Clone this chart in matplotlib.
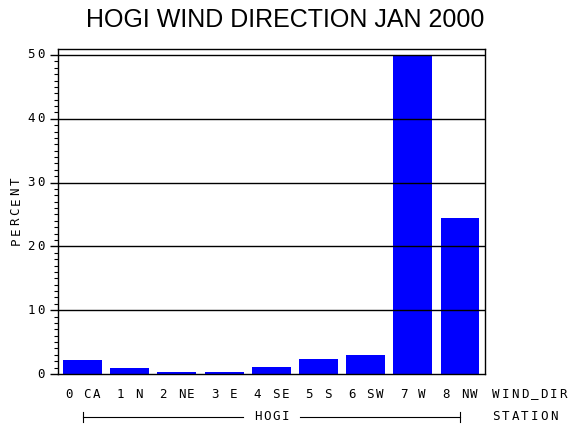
import matplotlib
matplotlib.use("Agg")
import matplotlib.pyplot as plt
import matplotlib.transforms as mtransforms
from matplotlib.ticker import MultipleLocator

# valeurs
directions = ["0 CA", "1 N", "2 NE", "3 E", "4 SE", "5 S", "6 SW", "7 W", "8 NW"]
percent = [2.2, 0.95, 0.33, 0.33, 1.1, 2.37, 3.0, 49.9, 24.45]
y_ticks = [0, 10, 20, 30, 40, 50]
station = "HOGI"

W, H = 570, 430
mono = "DejaVu Sans Mono"
fsize = 9
pitch = 9.2  # px entre caracteres (police SAS espacee)

fig = plt.figure(figsize=(W / 100, H / 100), dpi=100)
ax = fig.add_axes([58 / W, 1 - 374 / H, 427 / W, 325 / H])


def spaced(x, y, s, transform, ha="center", vertical=False, p=pitch):
    # place chaque caractere avec un pas fixe
    n = len(s)
    total = (n - 1) * p
    if ha == "center":
        start = -total / 2
    elif ha == "left":
        start = 3
    else:
        start = -total - 3
    for i, c in enumerate(s):
        if c == " ":
            continue
        off = (start + i * p) / 100
        if vertical:
            tr = mtransforms.offset_copy(transform, fig=fig, x=0, y=off, units="inches")
            rot = 90
        else:
            tr = mtransforms.offset_copy(transform, fig=fig, x=off, y=0, units="inches")
            rot = 0
        fig.text(x, y, c, transform=tr, ha="center", va="center", rotation=rot,
                 fontfamily=mono, fontsize=fsize)


x = list(range(len(directions)))
ax.bar(x, percent, width=0.825, color="#0000ff", zorder=1)

ax.set_xlim(-0.52, len(directions) - 0.47)
ax.set_ylim(0, 50.94)

# lignes de reference par-dessus les barres
for t in y_ticks[1:]:
    ax.axhline(t, color="black", linewidth=1.0, zorder=3)

ax.yaxis.set_major_locator(MultipleLocator(10))
ax.yaxis.set_minor_locator(MultipleLocator(1))
ax.set_yticks(y_ticks)
ax.set_yticklabels([])
ax.tick_params(axis="y", which="major", direction="out", length=6, width=1)
ax.tick_params(axis="y", which="minor", direction="out", length=3, width=0.8)
ax.set_xticks([])

for s in ax.spines.values():
    s.set_linewidth(1.0)

# etiquettes de l'axe y
ytr = mtransforms.blended_transform_factory(fig.transFigure, ax.transData)
for t in y_ticks:
    spaced(44 / W, t, str(t), ytr, ha="right", p=10)

spaced(16 / W, 1 - 211 / H, "PERCENT", fig.transFigure, vertical=True, p=10)

# etiquettes de l'axe x
xtr = mtransforms.blended_transform_factory(ax.transData, fig.transFigure)
for i, d in enumerate(directions):
    spaced(i, 1 - 394 / H, d, xtr)

spaced(493 / W, 1 - 394 / H, "WIND_DIR", fig.transFigure, ha="left", p=9.6)
spaced(493 / W, 1 - 417 / H, "STATION", fig.transFigure, ha="left", p=9.6)

fig.text(285 / W, 1 - 20 / H, "HOGI WIND DIRECTION JAN 2000",
         ha="center", va="center", fontsize=18, fontfamily="Liberation Sans")

# accolade de la station
yb = 1 - 417 / H
cap = 5 / H
ax.plot([0, 3.4], [yb, yb], color="black", linewidth=0.8, transform=xtr, clip_on=False)
ax.plot([4.6, 8], [yb, yb], color="black", linewidth=0.8, transform=xtr, clip_on=False)
for xe in (0, 8):
    ax.plot([xe, xe], [yb - cap, yb + cap], color="black", linewidth=0.8,
            transform=xtr, clip_on=False)
spaced(4, yb, station, xtr)

fig.savefig("out.png", dpi=100)
